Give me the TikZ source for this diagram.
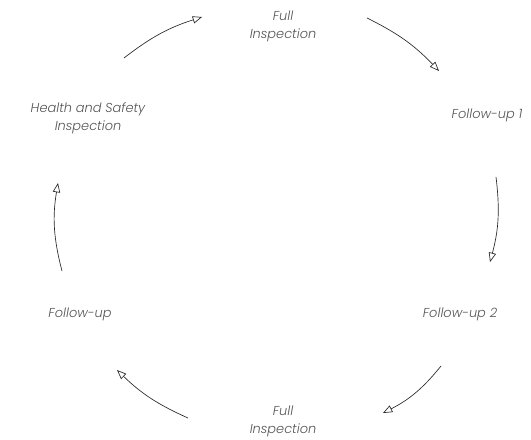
\documentclass[tikz,border=0pt]{standalone}
\usepackage{fontspec}
\newfontfamily\labelfont{Poppins}[UprightFont=* Light, ItalicFont=* Light Italic]
\usepackage{tikz}
\usetikzlibrary{arrows.meta}

\definecolor{labelgray}{RGB}{85,85,85}
\definecolor{linegray}{RGB}{40,40,40}

\begin{document}
\begin{tikzpicture}[
    x=0.75pt, y=0.75pt,
    every node/.style={font=\labelfont\itshape\fontsize{9.7}{13.5}\selectfont, text=labelgray, align=center},
    flow/.style={-{Triangle[open, length=7pt, width=5.5pt]}, line width=0.5pt, draw=linegray}
]

\useasboundingbox (0,0) rectangle (531,439);

% === NODES ===

% Inspection cycle, clockwise from the top
\node (fulltop) at (283,413) {Full\\Inspection};
\node (fup1)    at (487,324) {Follow-up 1};
\node (fup2)    at (460,125) {Follow-up 2};
\node (fullbot) at (283,18)  {Full\\Inspection};
\node (fup)     at (80,125)  {Follow-up};
\node (hs)      at (88,321)  {Health and Safety\\Inspection};

% Free arrow ends
\coordinate (hs-out)      at (124,381);
\coordinate (fulltop-in)  at (202,422);
\coordinate (fulltop-out) at (367,421);
\coordinate (fup1-in)     at (439,368);
\coordinate (fup1-out)    at (496,262);
\coordinate (fup2-in)     at (490,177);
\coordinate (fup2-out)    at (441,73);
\coordinate (fullbot-in)  at (383,26);
\coordinate (fullbot-out) at (188,21);
\coordinate (fup-in)      at (117,69);
\coordinate (fup-out)     at (62,168);
\coordinate (hs-in)       at (58,256);

% === CYCLE ===

% H&S -> Full Inspection
\draw[flow] (hs-out) to[bend left=10] (fulltop-in);

% Full Inspection -> Follow-up 1
\draw[flow] (fulltop-out) to[bend left=10] (fup1-in);

% Follow-up 1 -> Follow-up 2
\draw[flow] (fup1-out) to[bend left=11] (fup2-in);

% Follow-up 2 -> Full Inspection
\draw[flow] (fup2-out) to[bend left=12] (fullbot-in);

% Full Inspection -> Follow-up
\draw[flow] (fullbot-out) to[bend left=10] (fup-in);

% Follow-up -> H&S
\draw[flow] (fup-out) to[bend left=12] (hs-in);

\end{tikzpicture}
\end{document}
